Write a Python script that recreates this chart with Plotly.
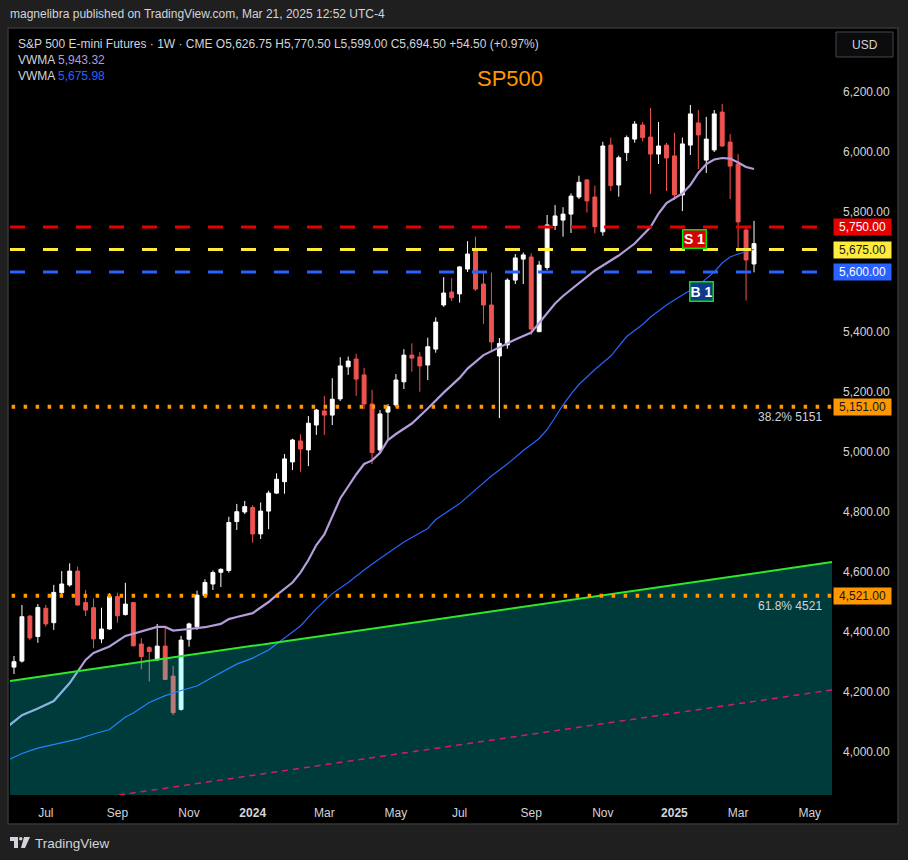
import pandas as pd
import plotly.graph_objects as go

# ES1! weekly candles, week 0 = 2023-06-05
open_ = [4283, 4303, 4453, 4385, 4479, 4431, 4531, 4557, 4603, 4498,
         4481, 4377, 4410, 4518, 4458, 4498, 4360, 4348, 4307, 4353,
         4253, 4142, 4376, 4418, 4522, 4560, 4599, 4605, 4768, 4800,
         4815, 4727, 4803, 4863, 4901, 4967, 5037, 5007, 5090, 5137,
         5123, 5177, 5284, 5310, 5257, 5160, 5007, 5133, 5157, 5234,
         5323, 5317, 5290, 5343, 5490, 5533, 5527, 5610, 5677, 5560,
         5490, 5320, 5357, 5573, 5643, 5650, 5401, 5615, 5755, 5773,
         5793, 5850, 5907, 5850, 5734, 6023, 5890, 5998, 6043, 6090,
         6050, 5993, 6023, 5987, 5857, 6023, 6097, 5973, 6007, 6133,
         6033, 5960, 5740, 5626.75]
high_ = [4320, 4490, 4457, 4493, 4490, 4557, 4603, 4629, 4618, 4540,
         4512, 4481, 4529, 4531, 4564, 4500, 4379, 4353, 4427, 4420,
         4287, 4387, 4431, 4538, 4576, 4605, 4612, 4784, 4827, 4837,
         4823, 4832, 4871, 4929, 4993, 5044, 5059, 5120, 5144, 5187,
         5246, 5316, 5318, 5327, 5280, 5207, 5140, 5160, 5260, 5343,
         5362, 5333, 5381, 5449, 5583, 5580, 5620, 5703, 5718, 5600,
         5598, 5380, 5579, 5660, 5665, 5663, 5637, 5790, 5823, 5816,
         5862, 5921, 5910, 5888, 6034, 6048, 5988, 6055, 6103, 6100,
         6147, 6100, 6030, 6064, 6048, 6157, 6140, 6117, 6140, 6160,
         6060, 5993, 5753, 5770.5]
low_ = [4260, 4298, 4373, 4364, 4418, 4407, 4523, 4551, 4488, 4453,
        4346, 4363, 4408, 4431, 4455, 4352, 4276, 4235, 4305, 4240,
        4123, 4138, 4351, 4407, 4515, 4540, 4550, 4598, 4740, 4793,
        4698, 4710, 4743, 4860, 4861, 4940, 4934, 4953, 5057, 5057,
        5090, 5170, 5257, 5187, 5143, 4960, 4995, 5040, 5150, 5210,
        5268, 5201, 5240, 5331, 5484, 5503, 5498, 5600, 5537, 5427,
        5333, 5113, 5344, 5560, 5560, 5390, 5400, 5607, 5740, 5718,
        5730, 5843, 5798, 5729, 5721, 5870, 5851, 5970, 6031, 6035,
        5860, 5960, 5870, 5840, 5803, 5990, 5943, 5930, 6000, 6018,
        5843, 5668, 5505, 5599]
close_ = [4301, 4451, 4380, 4482, 4427, 4532, 4560, 4603, 4490, 4473,
          4377, 4410, 4518, 4454, 4493, 4354, 4318, 4335, 4353, 4242,
          4131, 4373, 4427, 4523, 4565, 4598, 4609, 4765, 4801, 4818,
          4727, 4803, 4863, 4909, 4977, 5040, 5010, 5096, 5140, 5123,
          5176, 5287, 5303, 5243, 5160, 4998, 5127, 5151, 5240, 5323,
          5313, 5287, 5351, 5433, 5530, 5514, 5617, 5660, 5543, 5490,
          5367, 5362, 5573, 5647, 5657, 5410, 5623, 5757, 5787, 5793,
          5853, 5899, 5837, 5751, 6020, 5888, 5981, 6048, 6093, 6048,
          5993, 6020, 5980, 5857, 6027, 6127, 6057, 6043, 6127, 6020,
          5953, 5767, 5640, 5694.5]

# VWMA lines, read at some weeks (week index, value)
vwma_fast_wk = [-1, 1, 3, 5, 7, 8, 9, 10, 12, 14, 16, 18, 19, 20, 22, 24, 26, 27, 28,
                30, 32, 33, 35, 36, 37, 38, 39, 40, 41, 42, 43, 44, 45, 46, 47, 48,
                50, 52, 54, 56, 57, 59, 61, 63, 65, 66, 67, 68, 69, 71, 73, 76, 78,
                80, 81, 82, 84, 85, 86, 87, 88, 89, 90, 91, 92, 93]
vwma_fast = [4080, 4123, 4145, 4170, 4230, 4267, 4307, 4330, 4352, 4387, 4403, 4417,
             4417, 4405, 4410, 4416, 4427, 4443, 4450, 4463, 4500, 4523, 4565, 4598,
             4640, 4690, 4725, 4785, 4845, 4885, 4925, 4960, 4972, 4997, 5040, 5060,
             5095, 5145, 5198, 5247, 5278, 5323, 5350, 5375, 5398, 5430, 5465, 5495,
             5520, 5563, 5605, 5655, 5695, 5750, 5795, 5830, 5862, 5890, 5930, 5960,
             5975, 5980, 5978, 5965, 5950, 5943.32]
vwma_slow_wk = [-1, 1, 3, 5, 8, 10, 12, 14, 15, 17, 19, 21, 23, 25, 28, 30, 32, 34,
                36, 38, 40, 42, 44, 46, 48, 49, 52, 53, 56, 59, 60, 62, 64, 66, 67,
                68, 69, 70, 71, 73, 75, 77, 79, 80, 81, 82, 84, 86, 87, 88, 89, 90,
                91, 92, 93]
vwma_slow = [3970, 3995, 4013, 4025, 4043, 4060, 4075, 4117, 4130, 4165, 4188, 4205,
             4220, 4250, 4293, 4313, 4340, 4380, 4420, 4478, 4528, 4565, 4607, 4645,
             4680, 4700, 4745, 4775, 4828, 4895, 4920, 4960, 5005, 5045, 5075, 5115,
             5157, 5193, 5225, 5275, 5320, 5385, 5425, 5450, 5470, 5490, 5523, 5555,
             5578, 5600, 5630, 5650, 5660, 5668, 5675.98]

# drawings
levels = [5750, 5675, 5600]
level_colors = ["#e60000", "#ffeb3b", "#2962ff"]
level_text = ["#ffffff", "#131722", "#ffffff"]
fib_levels = [5151, 4521]
fib_names = ["38.2% 5151", "61.8% 4521"]
green_line = [4237, 4633]   # left edge -> right edge
pink_line = [3803, 4207]
price_ticks = [4000, 4200, 4400, 4600, 4800, 5000, 5200, 5400, 5800, 6000, 6200]

W, H = 908, 860
L, R, T, B = 10, 832, 30, 795
FONT = "Liberation Sans, Arial, sans-serif"
TXT = "#d1d4dc"


def px(x):
    return (x - L) / (R - L)


def py(y):
    return (B - y) / (B - T)


week0 = pd.Timestamp("2023-06-05")
weeks = [week0 + pd.Timedelta(weeks=i) for i in range(len(close_))]
x_left = week0 - pd.Timedelta(days=3.5)
x_right = week0 + pd.Timedelta(weeks=102.8)
y_lo, y_hi = 3856.7, 6406.7

fig = go.Figure()
fig.add_trace(go.Candlestick(
    x=weeks, open=open_, high=high_, low=low_, close=close_,
    increasing=dict(line=dict(color="#ffffff", width=1), fillcolor="#ffffff"),
    decreasing=dict(line=dict(color="#ef5350", width=1), fillcolor="#ef5350"),
    hoverinfo="skip"))
fig.add_trace(go.Scatter(
    x=[week0 + pd.Timedelta(weeks=w) for w in vwma_fast_wk], y=vwma_fast,
    mode="lines", line=dict(color="#b39ddb", width=2.2)))
fig.add_trace(go.Scatter(
    x=[week0 + pd.Timedelta(weeks=w) for w in vwma_slow_wk], y=vwma_slow,
    mode="lines", line=dict(color="#2962ff", width=1.2)))

# channel fill below the green trend line (drawn over the candles)
fig.add_trace(go.Scatter(
    x=[x_left, x_right, x_right, x_left],
    y=[green_line[0], green_line[1], y_lo - 200, y_lo - 200],
    mode="lines", fill="toself", fillcolor="rgba(0,255,255,0.23)",
    line=dict(width=0), hoverinfo="skip"))
fig.add_trace(go.Scatter(x=[x_left, x_right], y=green_line, mode="lines",
                         line=dict(color="#2ee82e", width=2)))
fig.add_trace(go.Scatter(x=[x_left, x_right], y=pink_line, mode="lines",
                         line=dict(color="#d81b60", width=1.5, dash="6px,5px")))

for lv, c in zip(levels, level_colors):
    fig.add_shape(type="line", xref="paper", x0=0, x1=1, y0=lv, y1=lv,
                  line=dict(color=c, width=3, dash="15px,18px"), layer="above")
for lv in fib_levels:
    fig.add_shape(type="line", xref="paper", x0=0.002, x1=1, y0=lv, y1=lv,
                  line=dict(color="#ff9800", width=4, dash="3.5px,8.5px"), layer="above")

# black chart panel and USD button
fig.add_shape(type="rect", xref="paper", yref="paper", x0=px(8), x1=px(898),
              y0=py(824), y1=py(28), fillcolor="#000000",
              line=dict(color="#363636", width=1.5), layer="below")
fig.add_shape(type="rect", xref="paper", yref="paper", x0=px(836), x1=px(893),
              y0=py(57), y1=py(32), fillcolor="#0c0c0c",
              line=dict(color="#434651", width=1), layer="above")

# TradingView logo
fig.add_shape(type="path", xref="paper", yref="paper",
              path=f"M {px(10)},{py(837)} L {px(18)},{py(837)} L {px(18)},{py(848)} "
                   f"L {px(14)},{py(848)} L {px(14)},{py(841)} L {px(10)},{py(841)} Z",
              fillcolor=TXT, line=dict(width=0))
fig.add_shape(type="circle", xref="paper", yref="paper", x0=px(19), x1=px(22.5),
              y0=py(840.5), y1=py(837), fillcolor=TXT, line=dict(width=0))
fig.add_shape(type="path", xref="paper", yref="paper",
              path=f"M {px(24)},{py(837)} L {px(30)},{py(837)} L {px(25)},{py(848)} "
                   f"L {px(21)},{py(848)} Z",
              fillcolor=TXT, line=dict(width=0))

ann = []


def text(x, y, s, size=12, color=TXT, xanchor="left", **kw):
    ann.append(dict(x=px(x), y=py(y), xref="paper", yref="paper", text=s,
                    showarrow=False, xanchor=xanchor, yanchor="middle",
                    font=dict(family=FONT, size=size, color=color), **kw))


text(8, 14, "magnelibra published on TradingView.com, Mar 21, 2025 12:52 UTC-4")
text(16, 44, "S&P 500 E-mini Futures · 1W · CME O5,626.75 H5,770.50 L5,599.00 "
     "C5,694.50 +54.50 (+0.97%)")
text(16, 60, "VWMA <span style='color:#b39ddb'>5,943.32</span>")
text(16, 76, "VWMA <span style='color:#2962ff'>5,675.98</span>")
text(510, 78, "SP500", size=22, color="#ff9800", xanchor="center")
text(864.5, 45, "USD", xanchor="center")
text(33, 843, "TradingView", size=13.5)

for lv, c, tc in zip(levels, level_colors, level_text):
    ann.append(dict(x=px(833), y=lv, xref="paper", yref="y",
                    text=f"{lv:,.2f}", showarrow=False, xanchor="left",
                    yanchor="middle", bgcolor=c, width=55, height=14, borderpad=1,
                    font=dict(family=FONT, size=12, color=tc)))
for lv, name in zip(fib_levels, fib_names):
    ann.append(dict(x=px(833), y=lv, xref="paper", yref="y",
                    text=f"{lv:,.2f}", showarrow=False, xanchor="left",
                    yanchor="middle", bgcolor="#ff9800", width=55, height=14,
                    borderpad=1, font=dict(family=FONT, size=12, color="#131722")))
    ann.append(dict(x=px(824), y=lv, xref="paper", yref="y", yshift=-10,
                    text=name, showarrow=False, xanchor="right", yanchor="middle",
                    font=dict(family=FONT, size=12, color=TXT)))

ann.append(dict(x=px(694.5), y=py(239), xref="paper", yref="paper", text="<b>S 1</b>",
                showarrow=False, xanchor="center", yanchor="middle",
                bgcolor="#d50000", bordercolor="#00e600",
                borderwidth=1.5, width=22, height=17, borderpad=0,
                font=dict(family=FONT, size=14, color="#ffffff")))
ann.append(dict(x=px(701.5), y=py(291.5), xref="paper", yref="paper", text="<b>B 1</b>",
                showarrow=False, xanchor="center", yanchor="middle",
                bgcolor="#0d3a8c", bordercolor="#00e600",
                borderwidth=1.5, width=22, height=18, borderpad=0,
                font=dict(family=FONT, size=14, color="#ffffff")))

tick_dates = ["2023-07-03", "2023-09-04", "2023-11-06", "2024-01-01", "2024-03-04",
              "2024-05-06", "2024-07-01", "2024-09-02", "2024-11-04", "2025-01-06",
              "2025-03-03", "2025-05-05"]
tick_text = ["Jul", "Sep", "Nov", "<b>2024</b>", "Mar", "May", "Jul", "Sep", "Nov",
             "<b>2025</b>", "Mar", "May"]

fig.update_layout(
    width=W, height=H,
    margin=dict(l=L, r=W - R, t=T, b=H - B),
    paper_bgcolor="#1f1f1f", plot_bgcolor="#000000",
    showlegend=False, hovermode=False,
    font=dict(family=FONT, size=12, color=TXT),
    annotations=ann,
    xaxis=dict(type="date", range=[x_left, x_right], rangeslider=dict(visible=False),
               tickvals=tick_dates, ticktext=tick_text, showgrid=False,
               zeroline=False, showline=False, ticks="", ticklabelstandoff=9,
               tickfont=dict(family=FONT, size=12, color=TXT)),
    yaxis=dict(side="right", range=[y_lo, y_hi], tickvals=price_ticks,
               tickformat=",.2f", showgrid=False, zeroline=False, showline=False,
               ticks="", ticklabelstandoff=10,
               tickfont=dict(family=FONT, size=12, color=TXT)),
)

fig.write_html("out.html", config={"displayModeBar": False},
               post_script="document.body.style.margin='0px';")
